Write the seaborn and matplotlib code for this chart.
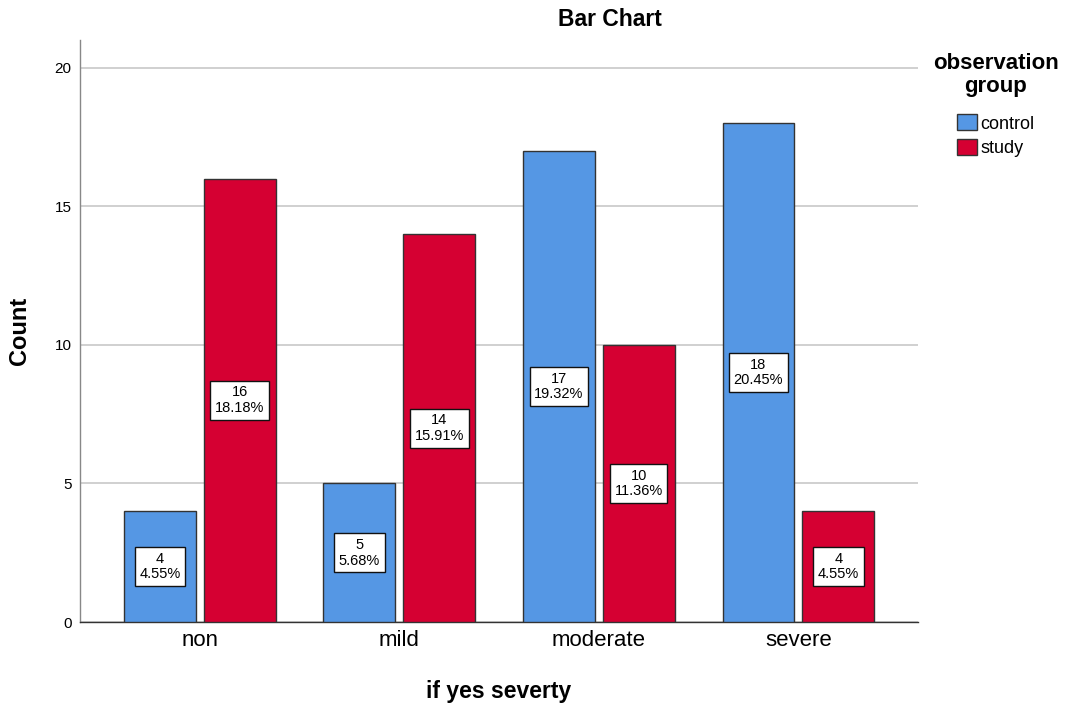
import matplotlib
matplotlib.use("Agg")
import matplotlib.pyplot as plt
import seaborn as sns
import pandas as pd
from matplotlib.patches import Patch

# Counts of severity by observation group
severity = ["non", "mild", "moderate", "severe"]
groups = ["control", "study"]
control_counts = [4, 5, 17, 18]
study_counts = [16, 14, 10, 4]

palette = {"control": "#5597E4", "study": "#D50032"}

rows = []
for s, c, t in zip(severity, control_counts, study_counts):
    rows.append({"severity": s, "group": "control", "count": c})
    rows.append({"severity": s, "group": "study", "count": t})
df = pd.DataFrame(rows)
total = df["count"].sum()

sns.set_style("white")
plt.rcParams["font.family"] = ["Liberation Sans", "DejaVu Sans"]
for key in ["text.color", "axes.labelcolor", "xtick.color", "ytick.color"]:
    plt.rcParams[key] = "black"

fig = plt.figure(figsize=(10.68, 7.07), dpi=100)
ax = fig.add_axes([0.0749, 0.1202, 0.7847, 0.8232])

sns.barplot(data=df, x="severity", y="count", hue="group", order=severity,
            hue_order=groups, palette=palette, width=0.8, gap=0.1,
            edgecolor="#333333", linewidth=1.0, saturation=1, ax=ax,
            legend=False, zorder=3)

ax.set_xlim(-0.6, 3.6)
ax.set_ylim(0, 21)
ax.set_yticks([0, 5, 10, 15, 20])
ax.yaxis.grid(True, color="#C8C8C8", linewidth=1.2, zorder=0)
ax.set_axisbelow(True)
for side in ["top", "right"]:
    ax.spines[side].set_visible(False)
ax.spines["left"].set_color("#888888")
ax.spines["bottom"].set_color("#333333")
for side in ["left", "bottom"]:
    ax.spines[side].set_linewidth(1.0)
ax.tick_params(axis="y", length=0, labelsize=11, pad=6)
ax.tick_params(axis="x", length=0, labelsize=16, pad=6)

ax.set_xlabel("if yes severty", fontsize=16.5, fontweight="bold")
ax.set_ylabel("Count", fontsize=17, fontweight="bold")
ax.xaxis.set_label_coords(0.5, -0.1186)
ax.xaxis.label.set_va("center")
ax.yaxis.set_label_coords(-0.0716, 0.5)
ax.yaxis.label.set_va("center")

# Value boxes centred in each bar: count and share of all cases
for container in ax.containers:
    for bar in container:
        h = bar.get_height()
        pct = 100 * h / total
        ax.text(bar.get_x() + bar.get_width() / 2, h / 2,
                f"{int(h)}\n{pct:.2f}%", ha="center", va="center",
                fontsize=10.5, linespacing=1.15, zorder=5,
                bbox=dict(boxstyle="square,pad=0.32", facecolor="white",
                          edgecolor="#111111", linewidth=1.0))

fig.text(609.5 / 1068, 1 - 20 / 707, "Bar Chart", ha="center", va="center",
         fontsize=16.5, fontweight="bold")

# Legend: bold two-line title above the swatches
fig.text(995.5 / 1068, 1 - 75 / 707, "observation\ngroup", ha="center",
         va="center", multialignment="center", linespacing=1.1,
         fontsize=16, fontweight="bold")
handles = [Patch(facecolor=palette[g], edgecolor="#333333", label=g) for g in groups]
fig.legend(handles=handles, loc="upper center",
           bbox_to_anchor=(996 / 1068, 1 - 98 / 707),
           frameon=False, fontsize=13, handlelength=1.1,
           handleheight=1.0, handletextpad=0.2, labelspacing=0.35)

fig.savefig("out.png", dpi=100)
